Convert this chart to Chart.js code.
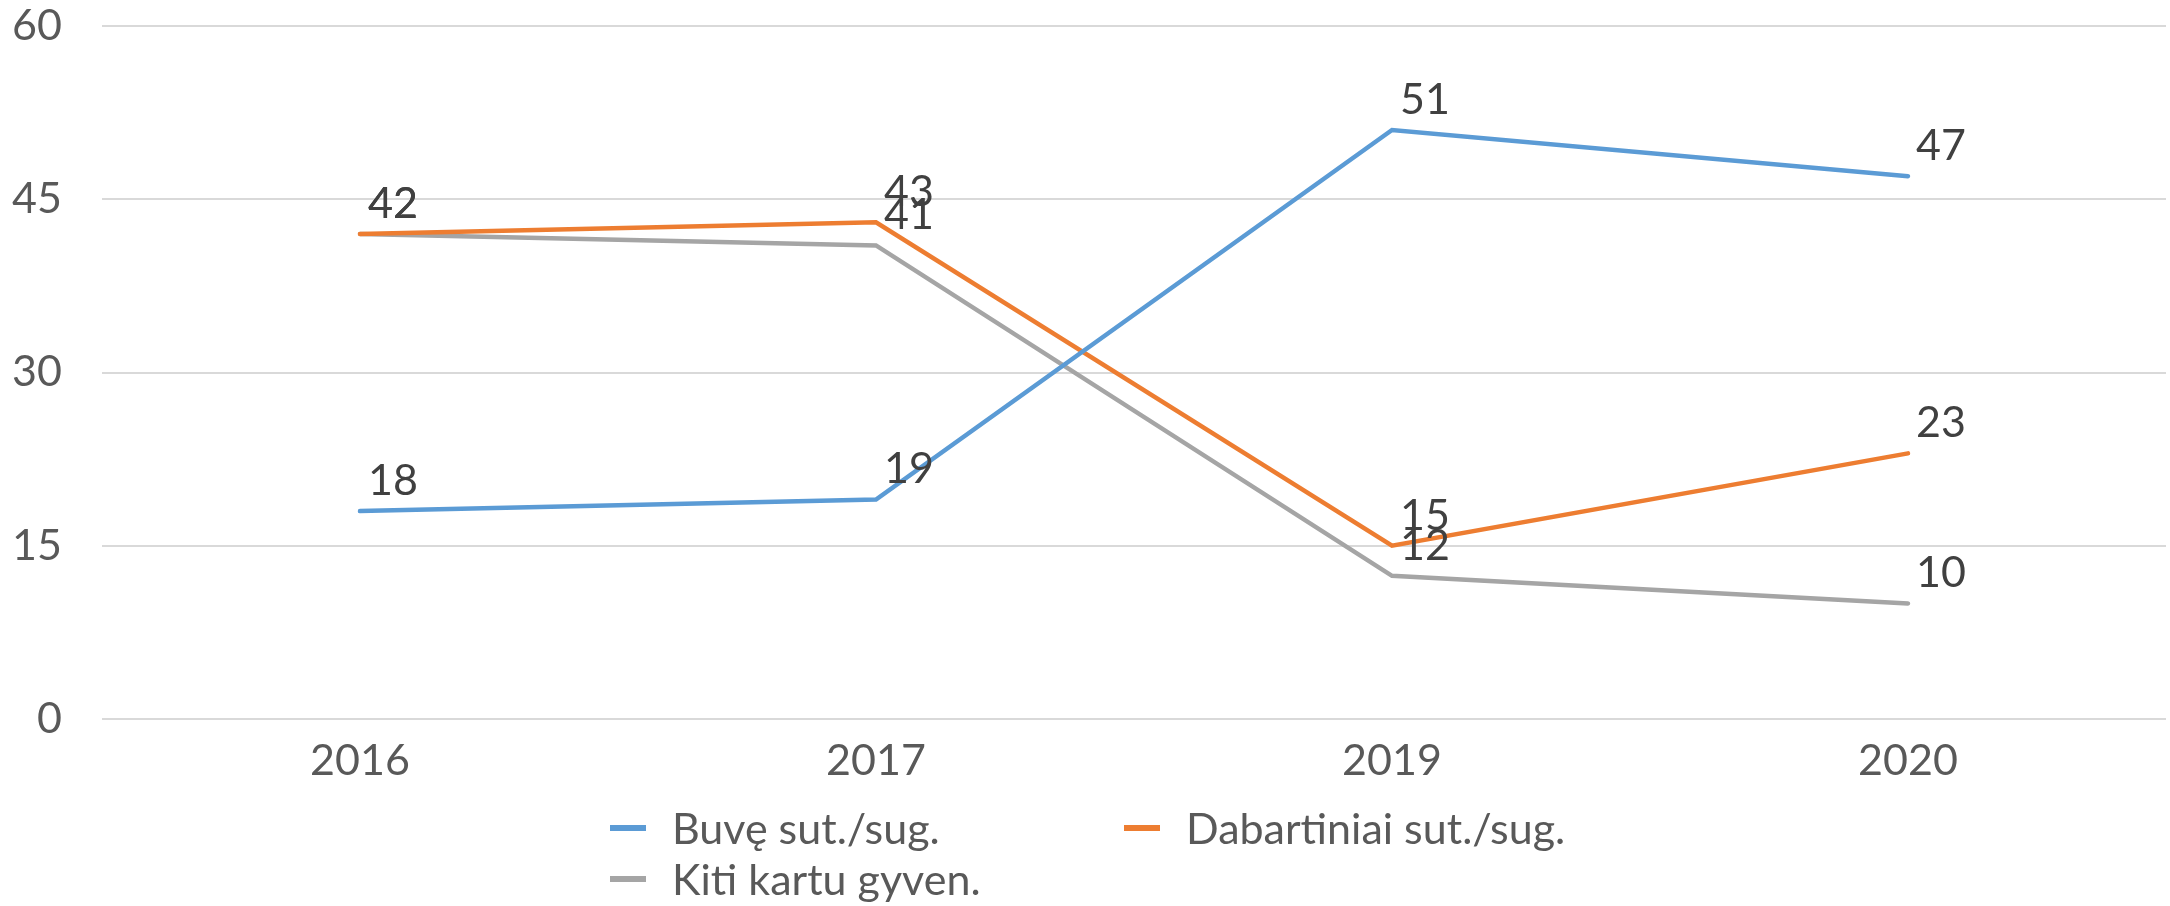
<!DOCTYPE html>
<html>
<head>
<meta charset="utf-8">
<script src="https://cdn.jsdelivr.net/npm/chart.js@4.4.1/dist/chart.umd.min.js"></script>
<style>
    body { margin: 0; background: #fff; }
    #wrap { position: relative; width: 2170px; height: 906px; }
    #legend {
        position: absolute; left: 610px; top: 802px;
        display: grid; grid-template-columns: 514px auto; grid-auto-rows: 51px;
        font-family: Lato, 'Open Sans', sans-serif; font-size: 43px; color: #595959;
    }
    .item { display: flex; align-items: center; white-space: nowrap; }
    .swatch { width: 36px; height: 6px; margin-right: 26px; }
</style>
</head>
<body>
<div id="wrap">
    <canvas id="lineChart"></canvas>
    <div id="legend"></div>
</div>
<script>
// --- DATA ---
const years = ['2016', '2017', '2019', '2020'];
const buveSug = [18, 19, 51, 47];
const dabartiniaiSug = [42, 43, 15, 23];
const kitiGyven = [42, 41, 12.4, 10];
const yTicks = [0, 15, 30, 45, 60];

const FONT = 'Lato, "Open Sans", sans-serif';

// value labels above-right of each point (no datalabels plugin offline)
const valueLabels = {
    id: 'valueLabels',
    afterDatasetsDraw(chart) {
        const ctx = chart.ctx;
        ctx.save();
        ctx.font = '43px ' + FONT;
        ctx.fillStyle = '#404040';
        ctx.textAlign = 'left';
        ctx.textBaseline = 'middle';
        chart.data.datasets.forEach((ds, i) => {
            chart.getDatasetMeta(i).data.forEach((pt, j) => {
                ctx.fillText(Math.round(ds.data[j]), pt.x + 8, pt.y - 30);
            });
        });
        ctx.restore();
    }
};

const ctx = document.getElementById('lineChart').getContext('2d');
const myChart = new Chart(ctx, {
    type: 'line',
    data: {
        labels: years,
        datasets: [
            { label: 'Buvę sut./sug.', data: buveSug, borderColor: '#5B9BD5', backgroundColor: '#5B9BD5' },
            { label: 'Dabartiniai sut./sug.', data: dabartiniaiSug, borderColor: '#ED7D31', backgroundColor: '#ED7D31' },
            { label: 'Kiti kartu gyven.', data: kitiGyven, borderColor: '#A5A5A5', backgroundColor: '#A5A5A5' }
        ].map(d => Object.assign(d, {
            borderWidth: 4.5,
            pointRadius: 0,
            borderCapStyle: 'round',
            tension: 0
        }))
    },
    options: {
        responsive: true,
        maintainAspectRatio: false,
        animation: false,
        layout: { padding: { top: 26, right: 4, left: 0, bottom: 0 } },
        plugins: {
            legend: { display: false },
            tooltip: { enabled: false }
        },
        scales: {
            x: {
                offset: true,
                grid: { display: false, drawTicks: false },
                border: { display: false },
                ticks: { color: '#595959', font: { family: FONT, size: 43 }, padding: 16 },
                afterFit: (s) => { s.height = 187; s.paddingLeft = 0; s.paddingRight = 0; }
            },
            y: {
                min: 0, max: 60,
                afterBuildTicks: (s) => { s.ticks = yTicks.map(v => ({ value: v })); },
                grid: { color: '#D9D9D9', lineWidth: 2, drawTicks: false },
                border: { display: false },
                ticks: { color: '#595959', font: { family: FONT, size: 43 }, padding: 40 },
                afterFit: (s) => { s.width = 102; s.paddingTop = 0; s.paddingBottom = 0; }
            }
        }
    },
    plugins: [valueLabels]
});

// --- HTML LEGEND (two columns like the original) ---
const legendEl = document.getElementById('legend');
myChart.data.datasets.forEach(ds => {
    const item = document.createElement('div');
    item.className = 'item';
    item.innerHTML = `<span class="swatch" style="background:${ds.borderColor}"></span><span>${ds.label}</span>`;
    legendEl.appendChild(item);
});
</script>
</body>
</html>
